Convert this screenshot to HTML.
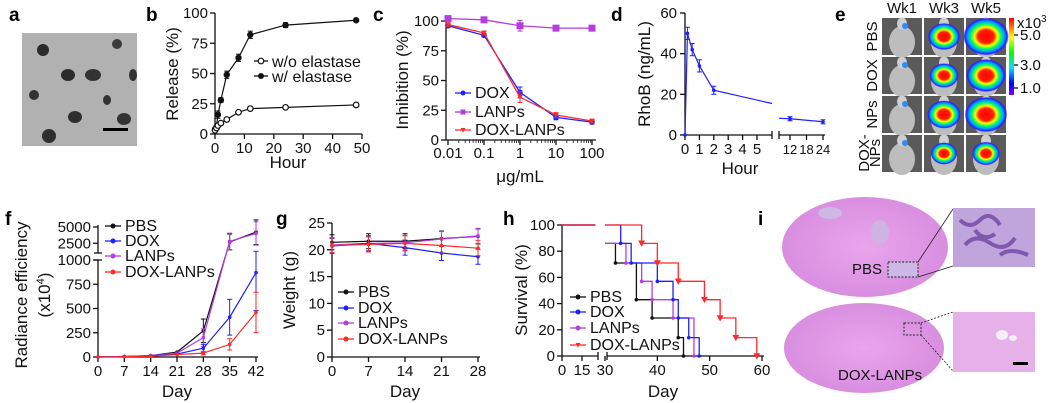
<!DOCTYPE html>
<html><head><meta charset="utf-8">
<style>
body{margin:0;background:#fff;}
svg{display:block;font-family:"Liberation Sans",Arial,sans-serif;}
.t{font-size:15px;fill:#111}
.at{font-size:17px;fill:#111}
.lt{font-size:19px;font-weight:bold;fill:#000}
.lg{font-size:15px;fill:#111}
.lgb{font-size:16px;fill:#111}
</style></head>
<body>
<svg id="fig" width="1050" height="403" viewBox="0 0 1050 403">
<defs>
<linearGradient id="cbar" x1="0" y1="0" x2="0" y2="1">
<stop offset="0" stop-color="#ff0000"/><stop offset="0.25" stop-color="#ffff00"/><stop offset="0.45" stop-color="#00ff00"/><stop offset="0.65" stop-color="#00e0ff"/><stop offset="0.85" stop-color="#0000ff"/><stop offset="1" stop-color="#8000ff"/>
</linearGradient>
<radialGradient id="heat"><stop offset="0" stop-color="#ff0000"/><stop offset="0.35" stop-color="#ff2000"/><stop offset="0.5" stop-color="#ffff00"/><stop offset="0.65" stop-color="#00ff60"/><stop offset="0.8" stop-color="#00a0ff"/><stop offset="0.92" stop-color="#2020ff"/><stop offset="1" stop-color="#8000ff" stop-opacity="0"/></radialGradient>
<radialGradient id="brain"><stop offset="0" stop-color="#e9a6ec"/><stop offset="1" stop-color="#d98ee0"/></radialGradient>
</defs>
<text class="lt" x="9" y="21">a</text>
<text class="lt" x="146" y="21">b</text>
<text class="lt" x="373" y="21">c</text>
<text class="lt" x="611" y="21">d</text>
<text class="lt" x="835" y="21">e</text>
<text class="lt" x="5" y="225">f</text>
<text class="lt" x="276" y="225">g</text>
<text class="lt" x="503" y="225">h</text>
<text class="lt" x="758" y="225">i</text>

<g>
<rect x="22" y="33" width="115" height="113" fill="#a9a9a9"/>
<rect x="22" y="33" width="115" height="113" fill="#bdbdbd" opacity="0.4"/>
<ellipse cx="43" cy="50" rx="6" ry="6" fill="#2b2b2b"/>
<ellipse cx="117" cy="44" rx="5" ry="5" fill="#3a3a3a"/>
<ellipse cx="68" cy="75" rx="7" ry="6" fill="#2b2b2b"/>
<ellipse cx="93" cy="75" rx="8" ry="6" fill="#333"/>
<ellipse cx="133" cy="75" rx="4" ry="6" fill="#333"/>
<ellipse cx="34" cy="95" rx="5" ry="5" fill="#333"/>
<ellipse cx="107" cy="100" rx="4" ry="5" fill="#333"/>
<ellipse cx="75" cy="117" rx="7" ry="6" fill="#2f2f2f"/>
<ellipse cx="124" cy="119" rx="7" ry="6" fill="#333"/>
<ellipse cx="49" cy="136" rx="7" ry="7" fill="#2f2f2f"/>
<rect x="103" y="128" width="25" height="3" fill="#000"/>
</g>

<g id="pb"></g>
<g id="pc"></g>
<g id="pd"></g>
<g id="pe"></g>
<g id="pf"></g>
<g id="pg"></g>
<g id="ph"></g>

<g>
<ellipse cx="865" cy="247" rx="83" ry="50" fill="url(#brain)"/>
<ellipse cx="864" cy="348" rx="80" ry="45" fill="url(#brain)"/>
<ellipse cx="830" cy="213" rx="12" ry="6" fill="#cdb8e6"/>
<ellipse cx="880" cy="232" rx="9" ry="12" fill="#cdb4e2"/>
<rect x="888" y="262" width="30" height="15" fill="#cdb8e8" stroke="#222" stroke-dasharray="2,1.5"/>
<rect x="904" y="323" width="17" height="12" fill="none" stroke="#222" stroke-dasharray="2,1.5"/>
<text class="lg" x="852" y="274">PBS</text>
<text class="lg" x="838" y="380">DOX-LANPs</text>
<line x1="918" y1="262" x2="953" y2="209" stroke="#222" stroke-width="0.8"/>
<line x1="918" y1="277" x2="953" y2="266" stroke="#222" stroke-width="0.8"/>
<line x1="921" y1="323" x2="953" y2="312" stroke="#222" stroke-width="0.8" stroke-dasharray="2,1.5"/>
<line x1="921" y1="335" x2="953" y2="371" stroke="#222" stroke-width="0.8" stroke-dasharray="2,1.5"/>
<rect x="953" y="208" width="82" height="59" fill="#c0a4dc"/>
<path d="M960 220 q10 10 20 0 t20 5 M965 245 q10 -12 25 -2 t25 -5 M975 230 q8 12 20 4 M1000 255 q10 -8 28 0" stroke="#8058b0" stroke-width="4" fill="none"/>
<rect x="953" y="312" width="82" height="60" fill="#e6b0e8"/>
<ellipse cx="1002" cy="335" rx="6" ry="5" fill="#f4eef8"/><ellipse cx="1013" cy="338" rx="4" ry="3" fill="#f4eef8"/>
<rect x="1013" y="362" width="15" height="3" fill="#000"/>
</g>
</svg>
<script>
const bTimes=[0,0.5,1,2,4,8,12,24,48];
const bWithout=[3,5,7,9,12,18,21,22,24];
const bWith=[4,6,16,28,49,63,82,90,94];
const bWithErr=[1,1,3,2,3,3,3,2,1];

const cConc=[0.01,0.1,1,10,100];
const cDOX=[96,88,40,19,15];
const cLANPs=[102,101,96,94,94];
const cDOXLANPs=[97,90,36,21,16];
const cErr=[3,3,9,4,3];

const dTimesA=[0,0.17,0.5,1,2];
const dRhoBA=[0,50,42,34,22];
const dTimesB=[12,24];
const dRhoBB=[8,6.5];
const dErr=[0,3,3,3,2];

const fDays=[0,7,14,21,28,35,42];
const fPBS=[0,5,15,50,270,2700,4200];
const fDOX=[0,5,10,30,90,410,870];
const fLANPs=[0,5,15,40,200,2800,4000];
const fDOXLANPs=[0,3,8,25,40,130,460];
const fTicksLow=[0,250,500,750,1000];
const fTicksHigh=[2500,5000];

const gDays=[0,7,14,21,28];
const gPBS=[21.4,21.6,21.6,22.1,22.5];
const gDOX=[20.7,21.2,20.4,19.4,18.7];
const gLANPs=[20.9,21.2,21.3,22.0,22.6];
const gDOXLANPs=[20.8,21.0,21.2,20.8,20.3];

const hPBSDays=[0,30,32,36,39,44,45];
const hPBSSurv=[100,86,71,43,29,14,0];
const hDOXDays=[0,33,35,40,43,44,46,48];
const hDOXSurv=[100,86,71,57,43,29,14,0];
const hLANPsDays=[0,30,34,37,39,43,47];
const hLANPsSurv=[100,86,71,57,43,29,0];
const hDLDays=[0,37,40,44,49,52,55,59];
const hDLSurv=[100,86,71,57,43,29,14,0];

const BLUE="#2020ff",PURP="#b43ee0",RED="#ff2a2a",BLK="#111";
const NS="http://www.w3.org/2000/svg";
function el(parent,tag,attrs){const e=document.createElementNS(NS,tag);for(const k in attrs)e.setAttribute(k,attrs[k]);parent.appendChild(e);return e;}
function txt(parent,x,y,s,cls,anchor,name){const t=el(parent,'text',{x:x,y:y,class:cls,'text-anchor':anchor||'start'});t.textContent=s;


return t;}
function ln(p,x1,y1,x2,y2,c,w){return el(p,'line',{x1:x1,y1:y1,x2:x2,y2:y2,stroke:c||BLK,'stroke-width':w||1.3});}
function poly(p,pts,c,w,name){const pl=el(p,'polyline',{points:pts.map(q=>q.join(',')).join(' '),fill:'none',stroke:c,'stroke-width':w||1.3});


return pl;}
function rotLabel(p,x,y,s,name){const t=txt(p,x,y,s,'at','middle',name);t.setAttribute('transform','rotate(-90 '+x+' '+y+')');return t;}
function marker(p,x,y,c,shape,r){r=r||3;let m;
 if(shape==='sq')m=el(p,'rect',{x:x-r,y:y-r,width:2*r,height:2*r,fill:c});
 else if(shape==='tri')m=el(p,'path',{d:`M${x-r} ${y-r*0.8}L${x+r} ${y-r*0.8}L${x} ${y+r}Z`,fill:c});
 else if(shape==='open')m=el(p,'circle',{cx:x,cy:y,r:r,fill:'#fff',stroke:c,'stroke-width':1.2});
 else m=el(p,'circle',{cx:x,cy:y,r:r,fill:c});
 
 
 return m;}
function errbar(p,x,y1,y2,c){ln(p,x,y1,x,y2,c,1);ln(p,x-2.5,y1,x+2.5,y1,c,1);ln(p,x-2.5,y2,x+2.5,y2,c,1);}
function legend(p,x,y,c,shape,label,cls){ln(p,x,y-5,x+16,y-5,c,1.3);marker(p,x+8,y-5,c,shape,2.5);txt(p,x+20,y,label,cls||'lg','start','legend-entry-'+label.toLowerCase());}

(function(){const g=document.getElementById('pb');
 const X=v=>215+v*(362-215)/50, Y=v=>134-v*(134-13)/100;
 ln(g,215,13,215,134);ln(g,215,134,362,134);
 [0,25,50,75,100].forEach(v=>{ln(g,210,Y(v),215,Y(v));txt(g,208,Y(v)+5,String(v),'t','end','y-tick-label');});
 [0,10,20,30,40,50].forEach(v=>{ln(g,X(v),134,X(v),139);txt(g,X(v),153,String(v),'t','middle','x-tick-label');});
 txt(g,288,168,'Hour','at','middle','x-axis-title');
 rotLabel(g,178,74,'Release (%)','y-axis-title');
 poly(g,bTimes.map((t,i)=>[X(t),Y(bWithout[i])]),BLK,1.2,'line-without-elastase');
 poly(g,bTimes.map((t,i)=>[X(t),Y(bWith[i])]),BLK,1.2,'line-with-elastase');
 bTimes.forEach((t,i)=>{errbar(g,X(t),Y(bWith[i]-bWithErr[i]),Y(bWith[i]+bWithErr[i]),BLK);marker(g,X(t),Y(bWith[i]),BLK,'c',3.2);marker(g,X(t),Y(bWithout[i]),BLK,'open',2.8);});
 ln(g,254,61,268,61);marker(g,261,61,BLK,'open',2.8);txt(g,272,67,'w/o elastase','lgb','start','legend-entry-without-elastase');
 ln(g,254,76,268,76);marker(g,261,76,BLK,'c',3);txt(g,272,82,'w/ elastase','lgb','start','legend-entry-with-elastase');
})();

(function(){const g=document.getElementById('pc');
 const X=v=>448+(Math.log10(v)+2)*36, Y=v=>140-v*(140-21)/100;
 ln(g,446,16,446,140);ln(g,446,140,596,140);
 [0,25,50,75,100].forEach(v=>{ln(g,441,Y(v),446,Y(v));txt(g,439,Y(v)+5,String(v),'t','end','y-tick-label');});
 cConc.forEach(v=>{ln(g,X(v),140,X(v),145);txt(g,X(v),158,String(v),'t','middle','x-tick-label');});
 for(let d=0;d<4;d++)for(let k=2;k<10;k++){const v=Math.pow(10,d-2)*k;ln(g,X(v),140,X(v),143,BLK,0.8);}
 txt(g,520,182,'μg/mL','at','middle','x-axis-title');
 rotLabel(g,408,80,'Inhibition (%)','y-axis-title');
 [[cLANPs,PURP,'sq','line-lanps'],[cDOX,BLUE,'c','line-dox'],[cDOXLANPs,RED,'tri','line-dox-lanps']].forEach(([arr,c,s,n])=>{
  poly(g,cConc.map((v,i)=>[X(v),Y(arr[i])]),c,1.3,n);
  cConc.forEach((v,i)=>{errbar(g,X(v),Y(arr[i]-cErr[i]/2),Y(arr[i]+cErr[i]/2),c);marker(g,X(v),Y(arr[i]),c,s,s==='sq'?3.5:2.8);});
 });
 legend(g,455,98,BLUE,'c','DOX','lgb');legend(g,455,117,PURP,'sq','LANPs','lgb');legend(g,455,135,RED,'tri','DOX-LANPs','lgb');
})();

(function(){const g=document.getElementById('pd');
 const X1=v=>685+v*14.4, X2=v=>790+(v-12)*2.75, Y=v=>135-v*(135-13)/60;
 ln(g,685,13,685,135);ln(g,685,135,772,135);ln(g,779,135,825,135);
 ln(g,772,131,772,139);ln(g,779,131,779,139);
 [0,20,40,60].forEach(v=>{ln(g,680,Y(v),685,Y(v));txt(g,677,Y(v)+5,String(v),'t','end','y-tick-label');});
 [0,1,2,3,4,5].forEach(v=>{ln(g,X1(v),135,X1(v),140);txt(g,X1(v),154,String(v),'t','middle','x-tick-label');});
 [12,18,24].forEach(v=>{ln(g,X2(v),135,X2(v),140);const t=txt(g,X2(v),154,String(v),'t','middle','x-tick-label');t.setAttribute('style','font-size:13px');});
 txt(g,740,174,'Hour','at','middle','x-axis-title');
 rotLabel(g,650,74,'RhoB (ng/mL)','y-axis-title');
 const pA=dTimesA.map((t,i)=>[X1(t),Y(dRhoBA[i])]);pA.push([772,Y((dRhoBA[4]+dRhoBB[0])/2+0.5)]);
 poly(g,pA,BLUE,1.2,'line-rhob-early');
 poly(g,dTimesB.map((t,i)=>[X2(t),Y(dRhoBB[i])]),BLUE,1.2,'line-rhob-late');
 ln(g,779,Y(8.2),X2(12),Y(dRhoBB[0]),BLUE,1.2);
 dTimesA.forEach((t,i)=>{if(i>0)errbar(g,X1(t),Y(dRhoBA[i]-dErr[i]),Y(dRhoBA[i]+dErr[i]),BLUE);marker(g,X1(t),Y(dRhoBA[i]),BLUE,'c',1.8);});
 dTimesB.forEach((t,i)=>{errbar(g,X2(t),Y(dRhoBB[i]-1),Y(dRhoBB[i]+1),BLUE);marker(g,X2(t),Y(dRhoBB[i]),BLUE,'c',1.8);});
})();

const eRows=['PBS','DOX','NPs','DOX-NPs'];
const eCols=['Wk1','Wk3','Wk5'];
const eSignal=[[0.1,0.55,1.0],[0.1,0.45,0.8],[0.12,0.6,0.9],[0.1,0.35,0.4]];
(function(){const g=document.getElementById('pe');
 const cx=[882,924,966], cy=[18,57,96,135], w=40,h=37;
 eCols.forEach((c,j)=>txt(g,cx[j]+w/2,13,c,'lg','middle','column-label-'+c.toLowerCase()));
 eRows.forEach((r,i)=>{
  if(r==='DOX-NPs'){const t1=txt(g,869,cy[i]+18,'DOX-','lg','middle','row-label-dox-nps');t1.setAttribute('transform',`rotate(-90 869 ${cy[i]+18})`);
   const t2=txt(g,880,cy[i]+18,'NPs','lg','middle','row-label-dox-nps-2');t2.setAttribute('transform',`rotate(-90 880 ${cy[i]+18})`);}
  else{const t=txt(g,877,cy[i]+h/2,r,'lg','middle','row-label-'+r.toLowerCase());t.setAttribute('transform',`rotate(-90 877 ${cy[i]+h/2})`);}
  eCols.forEach((c,j)=>{
   const tile=el(g,'rect',{x:cx[j],y:cy[i],width:w,height:h,fill:'#5a5a5a'});
   
   
   el(g,'ellipse',{cx:cx[j]+w/2,cy:cy[i]+h*0.65,rx:13,ry:16,fill:'#bdbdbd'});
   el(g,'ellipse',{cx:cx[j]+w/2,cy:cy[i]+h*0.15,rx:5,ry:6,fill:'#cfcfcf'});
   const s=eSignal[i][j];
   if(s<0.2){el(g,'circle',{cx:cx[j]+w/2+3,cy:cy[i]+8,r:3,fill:'#2a8cff'});}
   else el(g,'ellipse',{cx:cx[j]+w/2,cy:cy[i]+h/2,rx:8+15*s,ry:7+12*s,fill:'url(#heat)'});
  });
 });
 const cb=el(g,'rect',{x:1009,y:18,width:5,height:77,fill:'url(#cbar)'});
 
 
 txt(g,1017,28,'x10','lg','start','colorbar-unit');txt(g,1041,22,'3','t','start','colorbar-exponent').setAttribute('style','font-size:10px');
 [['5.0',35],['3.0',65],['1.0',88]].forEach(([l,y])=>{ln(g,1014,y,1018,y);txt(g,1020,y+5,l,'lg','start','colorbar-tick-label');});
})();

(function(){const g=document.getElementById('pf');
 const X=v=>98+v*(256-98)/42;
 const Y=v=>v<=1000?357-v*(357-260)/1000:253-(v-1000)*(253-227)/4000;
 ln(g,98,260,98,357);ln(g,98,225,98,253);ln(g,98,357,258,357);
 ln(g,94,253,102,253);ln(g,94,260,102,260);
 fTicksLow.forEach(v=>{ln(g,93,Y(v),98,Y(v));txt(g,91,Y(v)+5,String(v),'t','end','y-tick-label');});
 fTicksHigh.forEach(v=>{ln(g,93,Y(v),98,Y(v));txt(g,91,Y(v)+5,String(v),'t','end','y-tick-label');});
 fDays.forEach(v=>{ln(g,X(v),357,X(v),362);txt(g,X(v),376,String(v),'t','middle','x-tick-label');});
 txt(g,177,397,'Day','at','middle','x-axis-title');
 rotLabel(g,27,295,'Radiance efficiency','y-axis-title');
 const t=rotLabel(g,50,295,'(x10','y-axis-title-unit');t.innerHTML='(x10<tspan dy="-6" style="font-size:11px">4</tspan><tspan dy="6">)</tspan>';
 [[fPBS,BLK,'line-pbs'],[fLANPs,PURP,'line-lanps'],[fDOX,BLUE,'line-dox'],[fDOXLANPs,RED,'line-dox-lanps']].forEach(([a,c,n])=>{
  poly(g,fDays.map((d,i)=>[X(d),Y(a[i])]),c,1.2,n);
  fDays.forEach((d,i)=>{if(i>=4){const e=a[i]*0.45;errbar(g,X(d),Y(Math.max(0,a[i]-e)),Y(a[i]+e),c);}marker(g,X(d),Y(a[i]),c,'c',1.8);});
 });
 legend(g,105,231,BLK,'c','PBS','lgb');legend(g,105,246,BLUE,'c','DOX','lgb');legend(g,105,261,PURP,'c','LANPs','lgb');legend(g,105,277,RED,'c','DOX-LANPs','lgb');
})();

(function(){const g=document.getElementById('pg');
 const X=v=>332+v*(478-332)/28, Y=v=>357-v*(357-223)/25;
 ln(g,332,223,332,357);ln(g,332,357,480,357);
 [0,5,10,15,20,25].forEach(v=>{ln(g,327,Y(v),332,Y(v));txt(g,325,Y(v)+5,String(v),'t','end','y-tick-label');});
 gDays.forEach(v=>{ln(g,X(v),357,X(v),362);txt(g,X(v),376,String(v),'t','middle','x-tick-label');});
 txt(g,405,397,'Day','at','middle','x-axis-title');
 rotLabel(g,295,290,'Weight (g)','y-axis-title');
 [[gPBS,BLK,'line-pbs'],[gLANPs,PURP,'line-lanps'],[gDOX,BLUE,'line-dox'],[gDOXLANPs,RED,'line-dox-lanps']].forEach(([a,c,n])=>{
  poly(g,gDays.map((d,i)=>[X(d),Y(a[i])]),c,1.2,n);
  gDays.forEach((d,i)=>{errbar(g,X(d),Y(a[i]-1.4),Y(a[i]+1.4),c);marker(g,X(d),Y(a[i]),c,'c',1.8);});
 });
 legend(g,338,297,BLK,'c','PBS','lgb');legend(g,338,313,BLUE,'c','DOX','lgb');legend(g,338,328,PURP,'c','LANPs','lgb');legend(g,338,344,RED,'c','DOX-LANPs','lgb');
})();

(function(){const g=document.getElementById('ph');
 const X=v=>v<=25?562+v*(582-562)/15:605+(v-30)*(762-605)/30, Y=v=>356-v*(356-225)/100;
 ln(g,562,225,562,356);ln(g,562,356,598,356);ln(g,607,356,764,356);
 ln(g,598,352,598,360);ln(g,607,352,607,360);
 [0,20,40,60,80,100].forEach(v=>{ln(g,557,Y(v),562,Y(v));txt(g,555,Y(v)+5,String(v),'t','end','y-tick-label');});
 [0,15,30,40,50,60].forEach(v=>{ln(g,X(v),356,X(v),361);txt(g,X(v),375,String(v),'t','middle','x-tick-label');});
 txt(g,663,397,'Day','at','middle','x-axis-title');
 rotLabel(g,527,290,'Survival (%)','y-axis-title');
 [[hPBSDays,hPBSSurv,BLK,'c','line-pbs'],[hLANPsDays,hLANPsSurv,PURP,'c','line-lanps'],[hDOXDays,hDOXSurv,BLUE,'c','line-dox'],[hDLDays,hDLSurv,RED,'tri','line-dox-lanps']].forEach(([d,s,c,sh,n])=>{
  poly(g,[[X(0),Y(s[0])],[X(25),Y(s[0])]],c,1.3,n+'-pre-break');
  const pts=[];
  const startY=d[1]===30?s[1]:s[0];
  pts.push([X(30),Y(startY)]);
  let cur=startY;
  for(let i=(d[1]===30?2:1);i<d.length;i++){pts.push([X(d[i]),Y(cur)]);cur=s[i];pts.push([X(d[i]),Y(cur)]);}
  poly(g,pts,c,1.3,n);
  for(let i=1;i<d.length;i++){if(d[i]>30)marker(g,X(d[i]),Y(s[i]),c,sh,sh==='tri'?3.5:1.8);}
 });
 legend(g,570,302,BLK,'c','PBS','lgb');legend(g,570,317,BLUE,'c','DOX','lgb');legend(g,570,333,PURP,'c','LANPs','lgb');legend(g,570,350,RED,'tri','DOX-LANPs','lgb');
})();
</script>
</body></html>
